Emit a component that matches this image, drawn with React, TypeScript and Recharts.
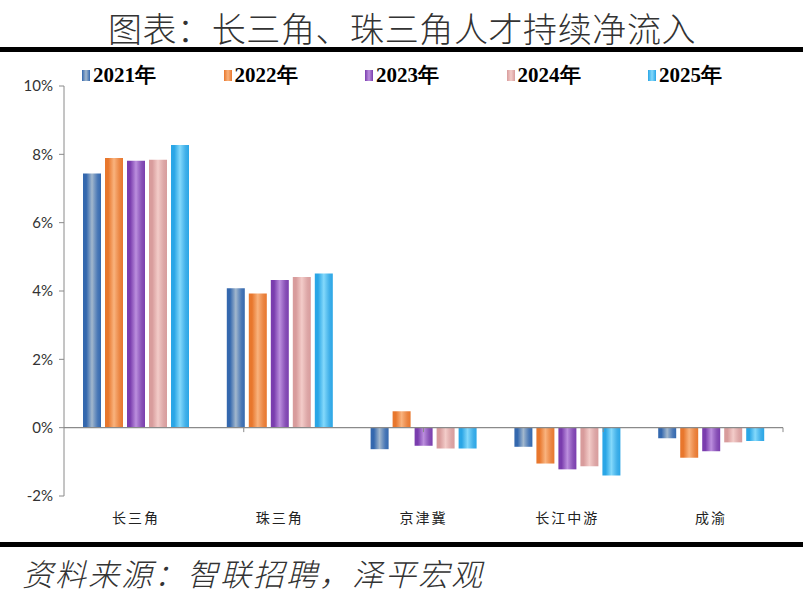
import React from "react";
import { Bar, BarChart, ReferenceLine, XAxis, YAxis } from "recharts";

const categories = ["长三角", "珠三角", "京津冀", "长江中游", "成渝"];
const seriesNames = ["2021年", "2022年", "2023年", "2024年", "2025年"];
const y2021 = [7.44, 4.08, -0.63, -0.56, -0.31];
const y2022 = [7.89, 3.93, 0.48, -1.05, -0.88];
const y2023 = [7.81, 4.32, -0.53, -1.22, -0.69];
const y2024 = [7.84, 4.41, -0.61, -1.13, -0.43];
const y2025 = [8.27, 4.51, -0.61, -1.4, -0.39];
const yTicks = [-2, 0, 2, 4, 6, 8, 10];
const boundaryTicks = [1, 2, 3, 4, 5];

// edge colour, light middle colour per series
const palette = [
  ["#3468AE", "#A3B8CD"],
  ["#E8772D", "#F9B37E"],
  ["#7A3DAE", "#BC8FDE"],
  ["#D89C9C", "#F3CCC9"],
  ["#2AA6E6", "#84D9FB"],
];

const seriesValues = [y2021, y2022, y2023, y2024, y2025];
const data = categories.map((name, i) => {
  const row: Record<string, string | number> = { name };
  seriesNames.forEach((s, k) => {
    row[s] = seriesValues[k][i];
  });
  return row;
});

const axisGray = "#8A8A8A";

export default function App() {
  return (
    <div style={{ position: "absolute", left: 0, top: 0, width: 804, height: 606, background: "#fff", overflow: "hidden" }}>
      <div
        style={{
          position: "absolute",
          top: 4,
          left: 0,
          width: 804,
          textAlign: "center",
          fontFamily: "'Noto Sans CJK SC'",
          fontWeight: 300,
          fontSize: 34,
          letterSpacing: 0.6,
          color: "#333",
          lineHeight: "48px",
        }}
      >
        图表：长三角、珠三角人才持续净流入
      </div>
      <div style={{ position: "absolute", top: 47, left: 0, width: 803, height: 5, background: "#000" }} />

      <div style={{ position: "absolute", top: 0, left: 0 }}>
        <BarChart width={804} height={540} data={data} margin={{ top: 86, right: 21, left: 0, bottom: 14 }} barSize={18} barGap={4}>
          <defs>
            {palette.map(([edge, mid], k) => (
              <linearGradient key={k} id={`g${k}`} x1="0" y1="0" x2="1" y2="0">
                <stop offset="0%" stopColor={edge} />
                <stop offset="18%" stopColor={edge} />
                <stop offset="50%" stopColor={mid} />
                <stop offset="82%" stopColor={edge} stopOpacity={0.9} />
                <stop offset="100%" stopColor={edge} />
              </linearGradient>
            ))}
          </defs>
          <XAxis
            dataKey="name"
            axisLine={false}
            tickLine={false}
            tickSize={0}
            tickMargin={17}
            height={30}
            tick={{ fill: "#222", fontSize: 14, fontFamily: "'Noto Sans CJK SC'", letterSpacing: 2 }}
          />
          <XAxis xAxisId="b" type="number" domain={[0, 5]} hide />
          <YAxis
            domain={[-2, 10]}
            ticks={yTicks}
            width={64}
            tickFormatter={(v) => `${v}%`}
            axisLine={{ stroke: axisGray }}
            tickLine={{ stroke: axisGray }}
            tickSize={5}
            tickMargin={6}
            tick={{ fill: "#333", fontSize: 15, fontFamily: "Lato" }}
            interval={0}
          />
          <ReferenceLine y={0} stroke={axisGray} strokeWidth={1.2} />
          {boundaryTicks.map((b) => (
            <ReferenceLine
              key={b}
              xAxisId="b"
              segment={[
                { x: b, y: 0 },
                { x: b, y: -0.13 },
              ]}
              stroke={axisGray}
            />
          ))}
          {seriesNames.map((s, k) => (
            <Bar key={s} dataKey={s} fill={`url(#g${k})`} isAnimationActive={false} />
          ))}
        </BarChart>
      </div>

      <div style={{ position: "absolute", top: 62, left: 82, display: "flex" }}>
        {seriesNames.map((s, k) => (
          <div key={s} style={{ width: 141.5, display: "flex", alignItems: "center" }}>
            <span
              style={{
                display: "inline-block",
                width: 8,
                height: 11,
                marginRight: 3,
                background: `linear-gradient(to right, ${palette[k][0]}, ${palette[k][1]}, ${palette[k][0]})`,
              }}
            />
            <span
              style={{
                fontFamily: "'Liberation Serif', 'DejaVu Serif', serif",
                fontWeight: 700,
                fontSize: 21,
                color: "#000",
                lineHeight: "26px",
              }}
            >
              {s}
            </span>
          </div>
        ))}
      </div>

      <div style={{ position: "absolute", top: 542, left: 0, width: 803, height: 5, background: "#000" }} />
      <div
        style={{
          position: "absolute",
          top: 551,
          left: 22,
          fontFamily: "'Noto Sans CJK SC'",
          fontStyle: "italic",
          fontWeight: 300,
          fontSize: 31,
          letterSpacing: 2,
          color: "#333",
          lineHeight: "44px",
        }}
      >
        资料来源：智联招聘，泽平宏观
      </div>
    </div>
  );
}
